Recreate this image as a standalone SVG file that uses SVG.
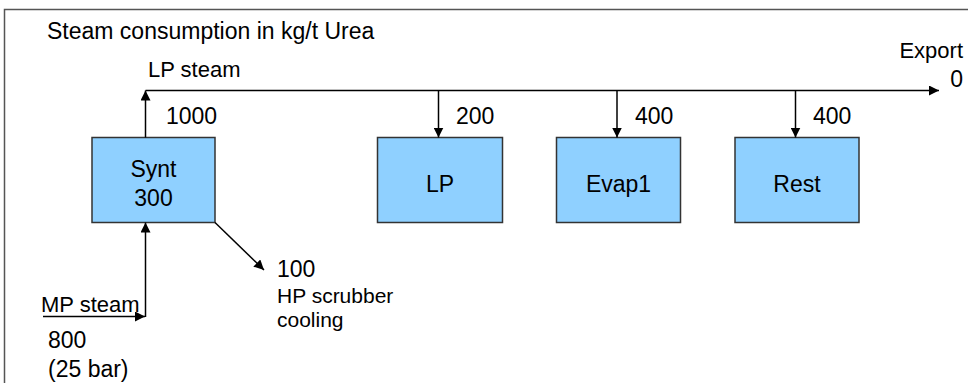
<svg xmlns="http://www.w3.org/2000/svg" width="968" height="383" viewBox="0 0 968 383">
  <defs>
    <marker id="arrow" viewBox="0 0 10 10" refX="10" refY="5" markerWidth="10" markerHeight="10" markerUnits="userSpaceOnUse" orient="auto">
      <path d="M0,0 L10,5 L0,10 Z" fill="#000"/>
    </marker>
    <style>
      text { font-family: "Liberation Sans", Arial, sans-serif; fill: #000; }
      .title { font-size: 23px; }
      .lbl { font-size: 22px; }
      .num { font-size: 23px; }
      .small { font-size: 21px; }
      .box rect { fill: #8fd0ff; stroke: #333; stroke-width: 1.5; }
      .box text { font-size: 23px; text-anchor: middle; }
      .wire { stroke: #000; stroke-width: 1.5; fill: none; }
    </style>
  </defs>

  <rect width="968" height="383" fill="#fff"/>
  <!-- frame, open to the right and bottom -->
  <rect x="4.5" y="9.5" width="980" height="400" fill="none" stroke="#555" stroke-width="1.5"/>

  <text class="title" x="47" y="39">Steam consumption in kg/t Urea</text>

  <!-- process units -->
  <g id="synt" class="box">
    <rect x="92" y="137.5" width="123" height="85"/>
    <text x="153.5" y="177">Synt</text>
    <text x="153.5" y="206">300</text>
  </g>
  <g id="lp" class="box">
    <rect x="377.5" y="137.5" width="125" height="85"/>
    <text x="440" y="192">LP</text>
  </g>
  <g id="evap1" class="box">
    <rect x="556.5" y="137.5" width="124" height="85"/>
    <text x="618.5" y="192">Evap1</text>
  </g>
  <g id="rest" class="box">
    <rect x="735" y="137.5" width="124" height="85"/>
    <text x="797" y="192">Rest</text>
  </g>

  <!-- steam lines -->
  <g id="connectors">
    <line class="wire" x1="145.5" y1="137.5" x2="145.5" y2="90.5" marker-end="url(#arrow)"/>
    <line class="wire" x1="145.5" y1="90.5" x2="939" y2="90.5" marker-end="url(#arrow)"/>
    <line class="wire" x1="438.5" y1="90.5" x2="438.5" y2="137.5" marker-end="url(#arrow)"/>
    <line class="wire" x1="617" y1="90.5" x2="617" y2="137.5" marker-end="url(#arrow)"/>
    <line class="wire" x1="795.5" y1="90.5" x2="795.5" y2="137.5" marker-end="url(#arrow)"/>
    <line class="wire" x1="43" y1="316.5" x2="145" y2="316.5" marker-end="url(#arrow)"/>
    <line class="wire" x1="145.5" y1="317" x2="145.5" y2="222.5" marker-end="url(#arrow)"/>
    <line class="wire" x1="215" y1="222.5" x2="264" y2="270" marker-end="url(#arrow)"/>
  </g>

  <!-- flow labels -->
  <text class="lbl" x="148" y="77">LP steam</text>
  <text class="num" x="166" y="124">1000</text>
  <text class="num" x="456" y="124">200</text>
  <text class="num" x="635" y="124">400</text>
  <text class="num" x="813" y="124">400</text>
  <text class="lbl" x="963" y="58" text-anchor="end">Export</text>
  <text class="num" x="963" y="87" text-anchor="end">0</text>
  <text class="lbl" x="41" y="312">MP steam</text>
  <text class="num" x="48" y="348">800</text>
  <text class="num" x="48" y="377">(25 bar)</text>
  <text class="num" x="277" y="277">100</text>
  <text class="small" x="277" y="303">HP scrubber</text>
  <text class="small" x="277" y="327">cooling</text>
</svg>
